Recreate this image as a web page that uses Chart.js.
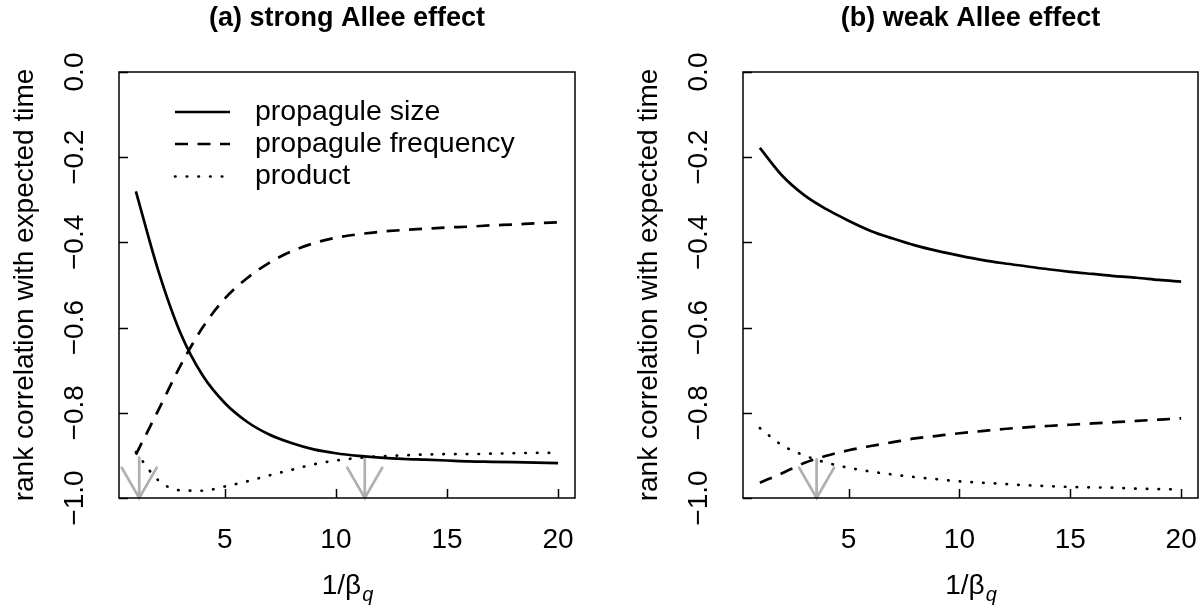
<!DOCTYPE html>
<html>
<head>
<meta charset="utf-8">
<script src="https://cdn.jsdelivr.net/npm/chart.js@4/dist/chart.umd.min.js"></script>
<style>
  body { margin: 0; background: #fff; }
  #wrap { position: relative; width: 1202px; height: 607px; }
  canvas { position: absolute; top: 0; }
</style>
</head>
<body>
<div id="wrap">
  <canvas id="chartA" width="624" height="607" style="left:0"></canvas>
  <canvas id="chartB" width="578" height="607" style="left:624px"></canvas>
</div>
<script>
// x values (1/beta_q)
var xValues = [1, 2, 3, 4, 5, 6, 7, 8, 9, 10, 11, 12, 13, 14, 15, 16, 17, 18, 19, 20];

// (a) strong Allee effect
var sizeA    = [-0.280, -0.465, -0.612, -0.712, -0.777, -0.821, -0.851, -0.871, -0.886, -0.895,
                -0.901, -0.905, -0.908, -0.910, -0.912, -0.914, -0.915, -0.916, -0.917, -0.918];
var freqA    = [-0.898, -0.795, -0.690, -0.600, -0.532, -0.484, -0.448, -0.421, -0.402, -0.389,
                -0.381, -0.375, -0.371, -0.368, -0.365, -0.363, -0.360, -0.358, -0.355, -0.353];
var productA = [-0.892, -0.958, -0.982, -0.983, -0.973, -0.961, -0.947, -0.934, -0.921, -0.912,
                -0.906, -0.902, -0.900, -0.898, -0.897, -0.897, -0.896, -0.895, -0.894, -0.894];

// (b) weak Allee effect
var sizeB    = [-0.178, -0.243, -0.289, -0.322, -0.349, -0.373, -0.391, -0.407, -0.420, -0.431,
                -0.441, -0.449, -0.456, -0.463, -0.469, -0.474, -0.479, -0.483, -0.488, -0.492];
var freqB    = [-0.964, -0.942, -0.918, -0.901, -0.888, -0.878, -0.869, -0.860, -0.854, -0.848,
                -0.843, -0.838, -0.834, -0.831, -0.828, -0.825, -0.822, -0.819, -0.816, -0.813];
var productB = [-0.836, -0.876, -0.900, -0.917, -0.929, -0.938, -0.945, -0.951, -0.956, -0.961,
                -0.964, -0.967, -0.970, -0.972, -0.974, -0.975, -0.976, -0.978, -0.979, -0.980];

// grey arrows at the crossings
var arrowXA = [1.15, 11.3];
var arrowTopA = [-0.905, -0.904];
var arrowXB = [3.56];
var arrowTopB = [-0.909];

var xTicks = [5, 10, 15, 20];
var yTicks = [0, -0.2, -0.4, -0.6, -0.8, -1];
var yTickLabels = ['0.0', '\u22120.2', '\u22120.4', '\u22120.6', '\u22120.8', '\u22121.0'];
var seriesNames = ['propagule size', 'propagule frequency', 'product'];

var FONT = '"Liberation Sans", Arial, Helvetica, sans-serif';
var solid = [], dashed = [13, 9.5], dotted = [0.5, 11.2];

function pts(ys) {
  return xValues.map(function (x, i) { return { x: x, y: ys[i] }; });
}

function ds(label, ys, dash, cap) {
  return {
    label: label,
    data: pts(ys),
    borderColor: '#000',
    borderWidth: 2.7,
    borderDash: dash,
    borderCapStyle: cap,
    pointRadius: 0,
    fill: false,
    cubicInterpolationMode: 'monotone'
  };
}

// R style frame: box, inward ticks, rotated y labels, titles, arrows, legend
var rPlot = {
  id: 'rPlot',
  beforeDatasetsDraw: function (chart, args, o) {
    var ctx = chart.ctx, xs = chart.scales.x, ys = chart.scales.y;
    ctx.save();
    ctx.strokeStyle = '#b0b0b0';
    ctx.lineWidth = 2.7;
    ctx.lineCap = 'round';
    o.arrowX.forEach(function (ax, i) {
      var px = xs.getPixelForValue(ax);
      var top = ys.getPixelForValue(o.arrowTop[i]);
      var tip = ys.getPixelForValue(-1);
      var len = 35, ang = Math.PI / 6;
      ctx.beginPath();
      ctx.moveTo(px, top);
      ctx.lineTo(px, tip);
      ctx.moveTo(px - len * Math.sin(ang), tip - len * Math.cos(ang));
      ctx.lineTo(px, tip);
      ctx.lineTo(px + len * Math.sin(ang), tip - len * Math.cos(ang));
      ctx.stroke();
    });
    ctx.restore();
  },
  afterDraw: function (chart, args, o) {
    var ctx = chart.ctx, a = chart.chartArea;
    var xs = chart.scales.x, ys = chart.scales.y;
    ctx.save();
    ctx.strokeStyle = '#000';
    ctx.fillStyle = '#000';
    ctx.lineWidth = 1.5;
    ctx.setLineDash([]);
    ctx.strokeRect(a.left, a.top, a.right - a.left, a.bottom - a.top);

    // ticks pointing inward
    ctx.beginPath();
    xTicks.forEach(function (t) {
      var px = Math.round(xs.getPixelForValue(t)) + 0.5;
      ctx.moveTo(px, a.bottom);
      ctx.lineTo(px, a.bottom - 9);
    });
    yTicks.forEach(function (t) {
      var py = Math.round(ys.getPixelForValue(t)) + 0.5;
      ctx.moveTo(a.left, py);
      ctx.lineTo(a.left + 9, py);
    });
    ctx.stroke();

    // x tick labels
    ctx.font = '28px ' + FONT;
    ctx.textAlign = 'center';
    ctx.textBaseline = 'alphabetic';
    xTicks.forEach(function (t) {
      ctx.fillText(String(t), xs.getPixelForValue(t), a.bottom + 50);
    });

    // y tick labels, rotated like R's default las = 0
    yTicks.forEach(function (t, i) {
      ctx.save();
      ctx.translate(a.left - 44, ys.getPixelForValue(t));
      ctx.rotate(-Math.PI / 2);
      ctx.textBaseline = 'middle';
      ctx.fillText(yTickLabels[i], 0, 0);
      ctx.restore();
    });

    // y axis title
    ctx.save();
    ctx.translate(a.left - 86, (a.top + a.bottom) / 2);
    ctx.rotate(-Math.PI / 2);
    ctx.textBaseline = 'alphabetic';
    ctx.fillText('rank correlation with expected time', 0, 0);
    ctx.restore();

    // x axis title 1/beta_q
    var cx = (a.left + a.right) / 2, by = a.bottom + 96;
    ctx.font = '28px ' + FONT;
    var w1 = ctx.measureText('1/\u03b2').width;
    ctx.font = 'italic 20px ' + FONT;
    var w2 = ctx.measureText('q').width;
    var x0 = cx - (w1 + w2) / 2;
    ctx.textAlign = 'left';
    ctx.font = '28px ' + FONT;
    ctx.fillText('1/\u03b2', x0, by);
    ctx.font = 'italic 20px ' + FONT;
    ctx.fillText('q', x0 + w1 + 1, by + 7);

    // panel title
    ctx.font = 'bold 27px ' + FONT;
    ctx.textAlign = 'center';
    ctx.textBaseline = 'middle';
    ctx.fillText(o.title, cx, 19);

    // legend
    if (o.legend) {
      var dashes = [solid, dashed, dotted];
      var caps = ['butt', 'butt', 'round'];
      var rows = [112, 144, 176.5];
      ctx.textAlign = 'left';
      ctx.textBaseline = 'alphabetic';
      ctx.font = '28.5px ' + FONT;
      rows.forEach(function (ry, i) {
        ctx.save();
        ctx.lineWidth = 2.7;
        ctx.setLineDash(dashes[i]);
        ctx.lineCap = caps[i];
        ctx.beginPath();
        ctx.moveTo(a.left + 56, ry);
        ctx.lineTo(a.left + 111, ry);
        ctx.stroke();
        ctx.restore();
        ctx.fillText(seriesNames[i], a.left + 136, ry + 7.5);
      });
    }
    ctx.restore();
  }
};

function makeChart(id, size, freq, prod, title, legend, ax, atop, rightPad) {
  return new Chart(document.getElementById(id), {
    type: 'line',
    data: {
      datasets: [
        ds(seriesNames[0], size, solid, 'butt'),
        ds(seriesNames[1], freq, dashed, 'butt'),
        ds(seriesNames[2], prod, dotted, 'round')
      ]
    },
    options: {
      responsive: false,
      animation: false,
      devicePixelRatio: 1,
      layout: { padding: { left: 119, right: rightPad, top: 72, bottom: 109 } },
      scales: {
        x: { type: 'linear', min: 0.24, max: 20.76, display: false },
        y: { type: 'linear', min: -1, max: 0, display: false }
      },
      plugins: {
        legend: { display: false },
        tooltip: { enabled: false },
        rPlot: { title: title, legend: legend, arrowX: ax, arrowTop: atop }
      }
    },
    plugins: [rPlot]
  });
}

makeChart('chartA', sizeA, freqA, productA, '(a) strong Allee effect', true, arrowXA, arrowTopA, 49);
makeChart('chartB', sizeB, freqB, productB, '(b) weak Allee effect', false, arrowXB, arrowTopB, 4);
</script>
</body>
</html>
